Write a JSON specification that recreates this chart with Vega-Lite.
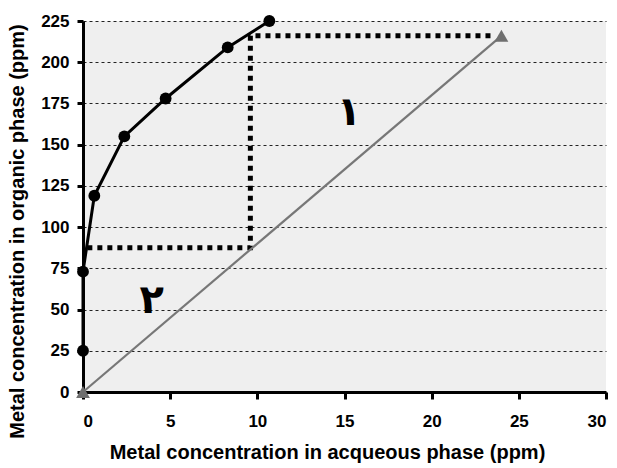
{
  "$schema": "https://vega.github.io/schema/vega-lite/v6.json",
  "width": 523,
  "height": 371,
  "autosize": {"type": "none"},
  "padding": {"left": 83, "top": 21, "right": 11, "bottom": 76},
  "background": "white",
  "config": {
    "view": {"fill": "#efefef", "stroke": null},
    "font": "Liberation Sans",
    "axis": {
      "domainColor": "black",
      "domainWidth": 3,
      "tickColor": "black",
      "tickWidth": 3,
      "labelFont": "Liberation Sans",
      "labelFontWeight": "bold",
      "labelFontSize": 17,
      "labelColor": "black",
      "titleFont": "Liberation Sans",
      "titleFontWeight": "bold",
      "titleFontSize": 20,
      "titleColor": "black"
    }
  },
  "datasets": {
    "eq": [
      {"x": 0, "y": 25},
      {"x": 0, "y": 73},
      {"x": 0.65, "y": 119},
      {"x": 2.37, "y": 155},
      {"x": 4.74, "y": 178},
      {"x": 8.3, "y": 209},
      {"x": 10.69, "y": 225}
    ],
    "op": [
      {"x": 0, "y": 0},
      {"x": 24, "y": 216}
    ],
    "steps": [
      {"o": 1, "x": 0.25, "y": 87.5},
      {"o": 2, "x": 9.6, "y": 87.5},
      {"o": 3, "x": 9.6, "y": 216},
      {"o": 4, "x": 23.4, "y": 216}
    ],
    "labels": [
      {"x": 15.26, "y": 169.5, "t": "١"},
      {"x": 3.94, "y": 55, "t": "٢"}
    ]
  },
  "layer": [
    {
      "data": {"name": "steps"},
      "mark": {"type": "line", "color": "black", "strokeWidth": 5, "strokeDash": [5, 5], "strokeCap": "butt"},
      "encoding": {
        "x": {
          "field": "x", "type": "quantitative",
          "scale": {"domain": [0, 30], "nice": false},
          "axis": {
            "values": [0, 5, 10, 15, 20, 25, 30],
            "grid": false,
            "tickSize": 7,
            "labelPadding": 14,
            "title": "Metal concentration in acqueous phase (ppm)",
            "titleX": 244,
            "titleY": 60,
            "titleBaseline": "middle",
            "titleAnchor": null
          }
        },
        "y": {
          "field": "y", "type": "quantitative",
          "scale": {"domain": [0, 225], "nice": false},
          "axis": {
            "values": [0, 25, 50, 75, 100, 125, 150, 175, 200, 225],
            "grid": true,
            "gridColor": "#222222",
            "gridDash": [3, 3],
            "gridWidth": 1,
            "tickSize": 6,
            "labelPadding": 8,
            "title": "Metal concentration in organic phase (ppm)",
            "titleX": -66,
            "titleY": 210,
            "titleAngle": -90,
            "titleBaseline": "middle",
            "titleAlign": "center"
          }
        },
        "order": {"field": "o"}
      }
    },
    {
      "data": {"name": "op"},
      "mark": {"type": "line", "color": "#777777", "strokeWidth": 2.2},
      "encoding": {
        "x": {"field": "x", "type": "quantitative"},
        "y": {"field": "y", "type": "quantitative"}
      }
    },
    {
      "data": {"name": "op"},
      "mark": {"type": "point", "shape": "triangle-up", "filled": true, "color": "#6f6f6f", "size": 190, "opacity": 1},
      "encoding": {
        "x": {"field": "x", "type": "quantitative"},
        "y": {"field": "y", "type": "quantitative"}
      }
    },
    {
      "data": {"name": "eq"},
      "mark": {"type": "line", "color": "black", "strokeWidth": 3},
      "encoding": {
        "x": {"field": "x", "type": "quantitative"},
        "y": {"field": "y", "type": "quantitative"}
      }
    },
    {
      "data": {"name": "eq"},
      "mark": {"type": "point", "shape": "circle", "filled": true, "color": "black", "size": 140, "opacity": 1},
      "encoding": {
        "x": {"field": "x", "type": "quantitative"},
        "y": {"field": "y", "type": "quantitative"}
      }
    },
    {
      "data": {"name": "labels"},
      "mark": {"type": "text", "font": "DejaVu Sans", "fontWeight": "bold", "fontSize": 40, "color": "black", "baseline": "middle", "align": "center"},
      "encoding": {
        "x": {"field": "x", "type": "quantitative"},
        "y": {"field": "y", "type": "quantitative"},
        "text": {"field": "t"}
      }
    }
  ]
}
